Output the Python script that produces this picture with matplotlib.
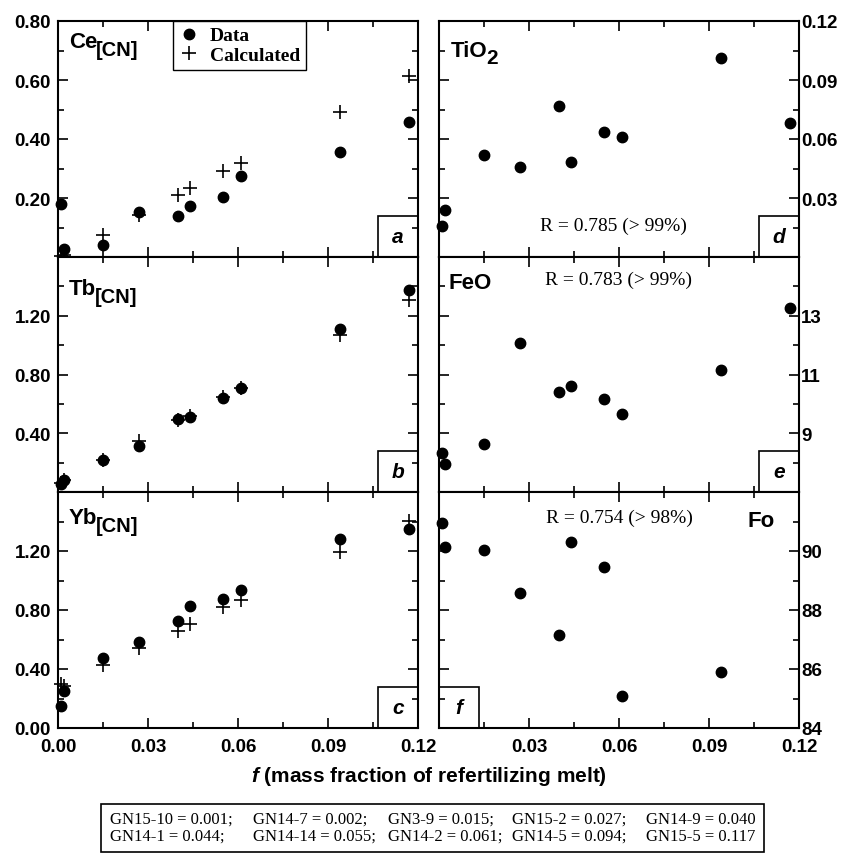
import matplotlib
matplotlib.use('Agg')
import matplotlib.pyplot as plt
from matplotlib.patches import Rectangle
from matplotlib.lines import Line2D
from matplotlib.ticker import MultipleLocator, FuncFormatter
import numpy as np

plt.rcParams['font.family'] = 'Liberation Sans'
plt.rcParams['mathtext.fontset'] = 'custom'
plt.rcParams['mathtext.it'] = 'Liberation Sans:italic:bold'

# mass fraction of refertilizing melt for each sample
samples = ['GN15-10', 'GN14-7', 'GN3-9', 'GN15-2', 'GN14-9',
           'GN14-1', 'GN14-14', 'GN14-2', 'GN14-5', 'GN15-5']
f_melt = [0.001, 0.002, 0.015, 0.027, 0.040, 0.044, 0.055, 0.061, 0.094, 0.117]

# chondrite normalized REE, data and calculated
ce_data = [0.178, 0.027, 0.041, 0.151, 0.139, 0.173, 0.202, 0.276, 0.356, 0.458]
ce_calc = [0.004, 0.008, 0.075, 0.141, 0.209, 0.235, 0.291, 0.320, 0.491, 0.615]
tb_data = [0.054, 0.079, 0.215, 0.310, 0.500, 0.514, 0.643, 0.706, 1.109, 1.378]
tb_calc = [0.060, 0.085, 0.218, 0.344, 0.490, 0.520, 0.650, 0.710, 1.068, 1.305]
yb_data = [0.146, 0.254, 0.476, 0.580, 0.724, 0.827, 0.874, 0.937, 1.283, 1.346]
yb_calc = [0.297, 0.285, 0.427, 0.539, 0.661, 0.706, 0.820, 0.870, 1.191, 1.404]

# major elements in olivine
tio2 = [0.016, 0.024, 0.0519, 0.0458, 0.0769, 0.0483, 0.0634, 0.0608, 0.1013, 0.0682]
feo = [8.33, 7.94, 8.65, 12.07, 10.39, 10.61, 10.17, 9.66, 11.16, 13.27]
fo = [90.94, 90.15, 90.02, 88.58, 87.16, 90.30, 89.47, 85.08, 85.91, np.nan]

r_texts = ['R = 0.785 (> 99%)', 'R = 0.783 (> 99%)', 'R = 0.754 (> 98%)']

W, H = 845.0, 854.0
fig = plt.figure(figsize=(W / 100, H / 100), dpi=100)

rows = [(22, 258), (258, 493), (493, 729)]


def add_ax(left, top, bottom):
    return fig.add_axes([left / W, 1 - bottom / H, 360 / W, (bottom - top) / H])


def omit_fmt(omit, fmt):
    def f(v, pos):
        for o in omit:
            if abs(v - o) < 1e-9:
                return ''
        return fmt.format(v)
    return FuncFormatter(f)


def style(ax, ylim, major, minor, offset, fmt, omit, right, bottom_row):
    ax.set_xlim(0, 0.12)
    ax.set_ylim(*ylim)
    ax.xaxis.set_major_locator(MultipleLocator(0.03))
    ax.xaxis.set_minor_locator(MultipleLocator(0.015))
    ax.yaxis.set_major_locator(MultipleLocator(major, offset=offset))
    ax.yaxis.set_minor_locator(MultipleLocator(minor))
    ax.yaxis.set_major_formatter(omit_fmt(omit, fmt))
    ax.tick_params(which='both', direction='in', top=True, right=True,
                   width=1.2, labelsize=13.5)
    ax.tick_params(which='major', length=7)
    ax.tick_params(which='minor', length=4)
    ax.tick_params(axis='y', labelleft=not right, labelright=right,
                   pad=1.5 if right else 5)
    if bottom_row:
        xomit = [0.0] if right else []
        ax.xaxis.set_major_formatter(omit_fmt(xomit, '{:.2f}'))
        ax.tick_params(axis='x', pad=7.5)
    else:
        ax.tick_params(axis='x', labelbottom=False)
    for lab in ax.get_xticklabels() + ax.get_yticklabels():
        lab.set_fontweight('bold')
    for s in ax.spines.values():
        s.set_linewidth(1.5)


def letter_box(ax, letter, left):
    w = 40 / 360.0
    h = 41 / (ax.get_position().height * H)
    x0 = 0.0 if left else 1 - w
    ax.add_patch(Rectangle((x0, 0), w, h, transform=ax.transAxes, fill=False,
                           lw=1.2, ec='k', zorder=5, clip_on=False))
    ax.text(x0 + w / 2, h / 2, letter, transform=ax.transAxes, ha='center',
            va='center', fontsize=15, fontweight='bold', fontstyle='italic')


def panel_label(ax, main, sub, x_px, base_px, sub_size=14.5, drop=5):
    h = ax.get_position().height * H
    t = ax.text(x_px / 360, 1 - base_px / h, main, transform=ax.transAxes,
                fontsize=16, fontweight='bold', va='baseline', ha='left')
    if sub:
        ax.annotate(sub, xy=(1, 0), xycoords=t, xytext=(-1, -drop),
                    textcoords='offset points', fontsize=sub_size,
                    fontweight='bold', va='bottom', ha='left')


dot_kw = dict(ls='none', marker='o', color='k', ms=7.5, clip_on=False, zorder=3)
cross_kw = dict(ls='none', marker='+', color='k', ms=10.5, mew=1.2, clip_on=False, zorder=4)

# left column: REE
ree = [(ce_data, ce_calc, (0, 0.8), 0.2, 0.1, [0.0], 'Ce', 'a', 26),
       (tb_data, tb_calc, (0, 1.6), 0.4, 0.2, [0.0, 1.6], 'Tb', 'b', 37),
       (yb_data, yb_calc, (0, 1.6), 0.4, 0.2, [1.6], 'Yb', 'c', 31)]
left_axes = []
for i, (d, c, ylim, mj, mn, om, name, let, base) in enumerate(ree):
    ax = add_ax(58, rows[i][0], rows[i][1])
    ax.plot(f_melt, d, **dot_kw)
    ax.plot(f_melt, c, **cross_kw)
    style(ax, ylim, mj, mn, 0, '{:.2f}', om, False, i == 2)
    letter_box(ax, let, False)
    panel_label(ax, name, '[CN]', 11, base)
    left_axes.append(ax)

handles = [Line2D([], [], ls='none', marker='o', color='k', ms=7.5),
           Line2D([], [], ls='none', marker='+', color='k', ms=10.5, mew=1.2)]
leg = left_axes[0].legend(handles, ['Data', 'Calculated'], loc='upper left',
                          bbox_to_anchor=(115 / 360, 1.0), frameon=True,
                          fancybox=False, edgecolor='k', framealpha=1,
                          borderaxespad=0, borderpad=0.3, handlelength=1.0,
                          handletextpad=0.6, labelspacing=0.1,
                          prop={'family': 'Liberation Serif', 'weight': 'bold', 'size': 14})
leg.get_frame().set_linewidth(1.0)

# right column: olivine major elements
maj = [(tio2, (0, 0.12), 0.03, 0.015, 0, '{:.2f}', [0.0]),
       (feo, (7, 15), 2, 1, 1, '{:.0f}', [7, 15]),
       (fo, (84, 92), 2, 1, 0, '{:.0f}', [92])]
right_axes = []
for i, (d, ylim, mj, mn, off, fmt, om) in enumerate(maj):
    ax = add_ax(439, rows[i][0], rows[i][1])
    ax.plot(f_melt, d, **dot_kw)
    style(ax, ylim, mj, mn, off, fmt, om, True, i == 2)
    right_axes.append(ax)

ax_d, ax_e, ax_f = right_axes
panel_label(ax_d, 'TiO', '2', 12, 35, sub_size=15, drop=4)
letter_box(ax_d, 'd', False)
hd = ax_d.get_position().height * H
ax_d.text(0.485, 32 / hd, r_texts[0], transform=ax_d.transAxes, ha='center',
          va='center', family='Liberation Serif', fontsize=14)

panel_label(ax_e, 'FeO', None, 10, 31)
letter_box(ax_e, 'e', False)
he = ax_e.get_position().height * H
ax_e.text(0.5, 1 - 22 / he, r_texts[1], transform=ax_e.transAxes, ha='center',
          va='center', family='Liberation Serif', fontsize=14)

panel_label(ax_f, 'Fo', None, 309, 34)
letter_box(ax_f, 'f', True)
hf = ax_f.get_position().height * H
ax_f.text(0.5, 1 - 25 / hf, r_texts[2], transform=ax_f.transAxes, ha='center',
          va='center', family='Liberation Serif', fontsize=14)

fig.text(428.5 / W, 1 - 777 / H, r'$f$ (mass fraction of refertilizing melt)',
         ha='center', va='center', fontsize=15, fontweight='bold')

# sample key box
fig.patches.append(Rectangle((101 / W, 1 - 853 / H), 663 / W, 48 / H,
                             transform=fig.transFigure, fill=False, ec='k', lw=1.2))
col_x = [110, 253, 388, 512, 646]
for k, (s, fv) in enumerate(zip(samples, f_melt)):
    r, c = divmod(k, 5)
    txt = '{} = {:.3f}'.format(s, fv) + (';' if c < 4 else '')
    fig.text(col_x[c] / W, 1 - (820 + 17 * r) / H, txt, ha='left', va='center',
             family='Liberation Serif', fontsize=12)

fig.savefig('out.png', dpi=100)
